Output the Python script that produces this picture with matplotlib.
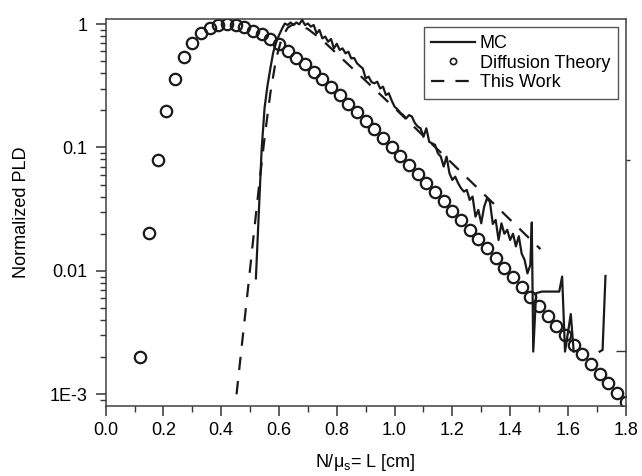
import numpy as np
import matplotlib
matplotlib.use("Agg")
import matplotlib.pyplot as plt
from matplotlib.ticker import MultipleLocator, LogLocator, NullFormatter

plt.rcParams['font.family'] = ['Liberation Sans', 'DejaVu Sans']
plt.rcParams['font.size'] = 13
plt.rcParams['mathtext.default'] = 'regular'

# ---- data ----
dt_x = [0.12, 0.15, 0.18, 0.21, 0.24, 0.27, 0.30, 0.33, 0.36, 0.39, 0.42, 0.45,
        0.48, 0.51, 0.54, 0.57, 0.60, 0.63, 0.66, 0.69, 0.72, 0.75, 0.78, 0.81,
        0.84, 0.87, 0.90, 0.93, 0.96, 0.99, 1.02, 1.05, 1.08, 1.11, 1.14, 1.17,
        1.20, 1.23, 1.26, 1.29, 1.32, 1.35, 1.38, 1.41, 1.44, 1.47, 1.50, 1.53,
        1.56, 1.59, 1.62, 1.65, 1.68, 1.71, 1.74, 1.77, 1.80]
dt_y = [0.0020, 0.0202, 0.079, 0.198, 0.359, 0.537, 0.706, 0.840, 0.933, 0.980,
        0.995, 0.980, 0.940, 0.883, 0.826, 0.756, 0.685, 0.604, 0.533, 0.472,
        0.411, 0.356, 0.307, 0.264, 0.226, 0.193, 0.165, 0.140, 0.119, 0.101,
        0.0859, 0.0726, 0.0614, 0.0518, 0.0436, 0.0366, 0.0308, 0.0258, 0.0216,
        0.0181, 0.0152, 0.0127, 0.0106, 0.00887, 0.00741, 0.00619, 0.00518,
        0.00433, 0.00361, 0.00302, 0.00252, 0.00211, 0.00176, 0.00147, 0.00123,
        0.00103, 0.00086]

mc_x = [0.52, 0.53, 0.54, 0.55, 0.56, 0.57, 0.58, 0.59, 0.60, 0.61, 0.62, 0.63,
        0.64, 0.65, 0.66, 0.67, 0.68, 0.69, 0.70, 0.71, 0.72, 0.73, 0.74, 0.75,
        0.76, 0.77, 0.78, 0.79, 0.80, 0.81, 0.82, 0.83, 0.84, 0.85, 0.86, 0.87,
        0.88, 0.89, 0.90, 0.91, 0.92, 0.93, 0.94, 0.95, 0.96, 0.97, 0.98, 0.99,
        1.00, 1.01, 1.02, 1.03, 1.04, 1.05, 1.06, 1.07, 1.08, 1.09, 1.10, 1.11,
        1.12, 1.13, 1.14, 1.15, 1.16, 1.17, 1.18, 1.19, 1.20, 1.21, 1.22, 1.23,
        1.24, 1.25, 1.26, 1.27, 1.28, 1.29, 1.30, 1.31, 1.32, 1.33, 1.34, 1.35,
        1.36, 1.37, 1.38, 1.39, 1.40, 1.41, 1.42, 1.43, 1.44, 1.45, 1.46, 1.47,
        1.475, 1.48, 1.49, 1.51, 1.57, 1.58, 1.59, 1.61, 1.62, 1.66,
        1.71, 1.72, 1.73]
mc_y = [0.0087, 0.0295, 0.0977, 0.209, 0.316, 0.437, 0.589, 0.708, 0.813, 0.912,
        1.01, 0.982, 1.03, 0.982, 1.03, 0.995, 1.08, 0.982, 1.01, 0.953, 0.982,
        0.841, 0.895, 0.766, 0.791, 0.719, 0.757, 0.635, 0.692, 0.617, 0.635,
        0.579, 0.597, 0.527, 0.531, 0.481, 0.457, 0.437, 0.363, 0.375, 0.339,
        0.331, 0.341, 0.301, 0.311, 0.266, 0.275, 0.240, 0.214, 0.204, 0.191,
        0.183, 0.172, 0.183, 0.178, 0.158, 0.148, 0.143, 0.122, 0.143, 0.111,
        0.108, 0.105, 0.0897, 0.0843, 0.070, 0.0843, 0.0618, 0.0546, 0.058,
        0.0513, 0.0468, 0.0439, 0.0453, 0.0376, 0.040, 0.0275, 0.0312, 0.0243,
        0.0331, 0.0387, 0.0363, 0.024, 0.0259, 0.0178, 0.0243, 0.020, 0.0215,
        0.0178, 0.020, 0.0158, 0.0191, 0.0138, 0.0123, 0.00955, 0.0112,
        0.0247, 0.00222, 0.0066, 0.0068, 0.0068, 0.009, 0.00222, 0.00447, 0.00222,
        np.nan, 0.00222, 0.00229, 0.0091]

tw_x = [0.453, 0.47, 0.49, 0.51, 0.53, 0.55, 0.57, 0.59, 0.61, 0.63, 0.65, 0.67,
        0.70, 0.75, 0.80, 0.90, 1.00, 1.10, 1.20, 1.30, 1.40, 1.505]
tw_y = [0.0010, 0.00234, 0.00631, 0.0174, 0.0468, 0.120, 0.275, 0.525, 0.776,
        0.933, 1.0, 0.977, 0.912, 0.741, 0.575, 0.347, 0.209, 0.124, 0.0741,
        0.0439, 0.0260, 0.0150]

x_ticks = [0.0, 0.2, 0.4, 0.6, 0.8, 1.0, 1.2, 1.4, 1.6, 1.8]
x_tick_labels = ['0.0', '0.2', '0.4', '0.6', '0.8', '1.0', '1.2', '1.4', '1.6', '1.8']
y_ticks = [1e-3, 1e-2, 1e-1, 1]
y_tick_labels = ['1E-3', '0.01', '0.1', '1']

# ---- figure ----
fig = plt.figure(figsize=(6.42, 4.76), dpi=100)
ax = fig.add_axes([0.1646, 0.1477, 0.81, 0.8123])

ax.plot(dt_x, dt_y, linestyle='none', marker='o', markersize=8.2,
        markerfacecolor='none', markeredgecolor='#1a1a1a', markeredgewidth=1.6,
        label='Diffusion Theory', zorder=2)
ax.plot(mc_x, mc_y, color='#1a1a1a', lw=1.6, label='MC', zorder=3)
ax.plot(tw_x, tw_y, color='#1a1a1a', lw=1.6, dashes=(6, 5), label='This Work', zorder=3)

ax.set_yscale('log')
ax.set_xlim(0, 1.8)
ax.set_ylim(8.09e-4, 1.098)

ax.set_xticks(x_ticks)
ax.set_xticklabels(x_tick_labels)
ax.xaxis.set_minor_locator(MultipleLocator(0.1))
ax.set_yticks(y_ticks)
ax.set_yticklabels(y_tick_labels)
ax.yaxis.set_minor_locator(LogLocator(base=10, subs=np.arange(2, 10)))
ax.yaxis.set_minor_formatter(NullFormatter())

ax.tick_params(which='major', direction='out', length=7, width=1.1, color='#333333',
               top=False, right=False)
ax.tick_params(axis='y', which='major', pad=6)
ax.tick_params(axis='x', which='major', pad=5)
ax.tick_params(which='minor', direction='out', length=4, width=1.0, color='#333333',
               top=False, right=False)
for s in ax.spines.values():
    s.set_color('#404040')
    s.set_linewidth(1.1)

ax.set_xlabel('N/μ$_\\mathregular{s}$= L [cm]', labelpad=9)
ax.set_ylabel('Normalized PLD', labelpad=14)

# stray right-axis marks of the original
ax2 = ax.twinx()
ax2.set_yscale('log')
ax2.set_ylim(ax.get_ylim())
ax2.set_yticks([0.00225])
ax2.set_yticklabels([''])
ax2.set_yticks([0.0792], minor=True)
ax2.yaxis.set_minor_formatter(NullFormatter())
ax2.tick_params(which='major', direction='in', length=7, width=1.0, color='#333333')
ax2.tick_params(which='minor', direction='out', length=3, width=1.0, color='#333333')
for s in ax2.spines.values():
    s.set_visible(False)

handles, labels = ax.get_legend_handles_labels()
order = [1, 0, 2]
leg = ax.legend([handles[i] for i in order], [labels[i] for i in order],
                loc='upper right', bbox_to_anchor=(0.985, 0.9786),
                borderaxespad=0, fancybox=False, framealpha=1,
                edgecolor='#555555', handlelength=2.45, handletextpad=0.25,
                labelspacing=0.15, borderpad=0.42, fontsize=13)
leg.get_frame().set_linewidth(1.0)
leg.legend_handles[1].set_markersize(4.5)
leg.legend_handles[1].set_markeredgewidth(1.2)

fig.savefig('out.png', dpi=100)
